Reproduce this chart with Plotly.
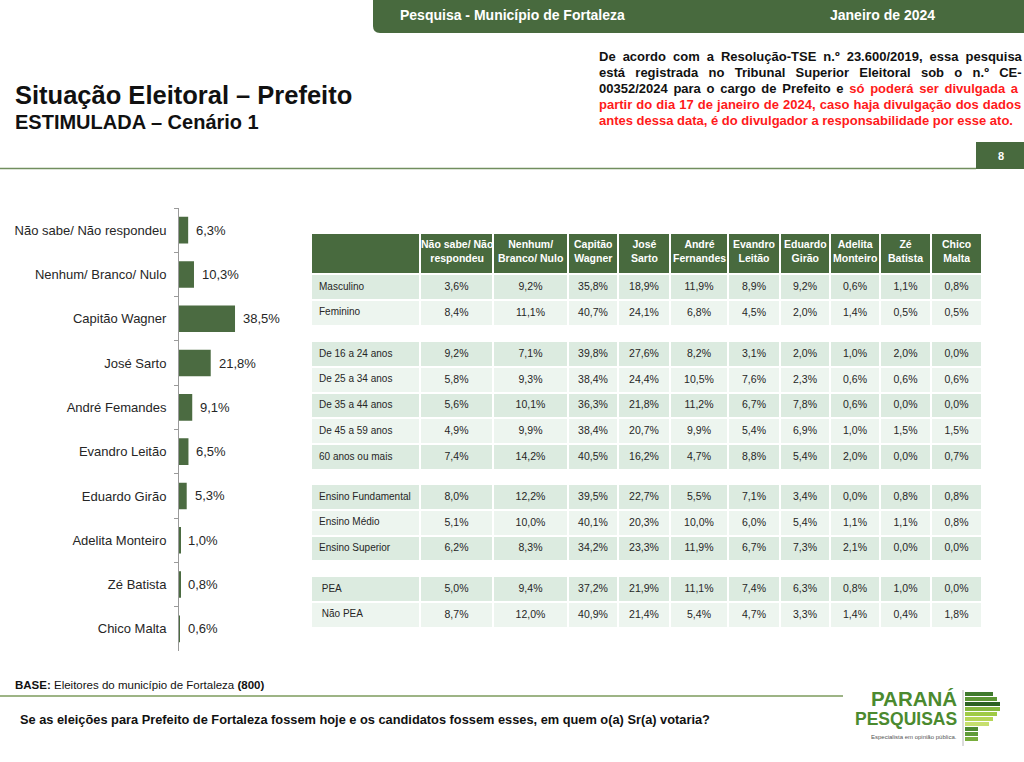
import plotly.graph_objects as go

# ---------------- data ----------------
candidates = ["Não sabe/ Não respondeu", "Nenhum/ Branco/ Nulo", "Capitão Wagner", "José Sarto",
              "André Femandes", "Evandro Leitão", "Eduardo Girão", "Adelita Monteiro",
              "Zé Batista", "Chico Malta"]
vote_share = [6.3, 10.3, 38.5, 21.8, 9.1, 6.5, 5.3, 1.0, 0.8, 0.6]

table_headers = ["Não sabe/ Não<br>respondeu", "Nenhum/<br>Branco/ Nulo", "Capitão<br>Wagner",
                 "José<br>Sarto", "André<br>Fernandes", "Evandro<br>Leitão", "Eduardo<br>Girão",
                 "Adelita<br>Monteiro", "Zé<br>Batista", "Chico<br>Malta"]

gender_labels = ["Masculino", "Feminino"]
gender_values = [
    [3.6, 9.2, 35.8, 18.9, 11.9, 8.9, 9.2, 0.6, 1.1, 0.8],
    [8.4, 11.1, 40.7, 24.1, 6.8, 4.5, 2.0, 1.4, 0.5, 0.5],
]
age_labels = ["De 16 a 24 anos", "De 25 a 34 anos", "De 35 a 44 anos", "De 45 a 59 anos", "60 anos ou mais"]
age_values = [
    [9.2, 7.1, 39.8, 27.6, 8.2, 3.1, 2.0, 1.0, 2.0, 0.0],
    [5.8, 9.3, 38.4, 24.4, 10.5, 7.6, 2.3, 0.6, 0.6, 0.6],
    [5.6, 10.1, 36.3, 21.8, 11.2, 6.7, 7.8, 0.6, 0.0, 0.0],
    [4.9, 9.9, 38.4, 20.7, 9.9, 5.4, 6.9, 1.0, 1.5, 1.5],
    [7.4, 14.2, 40.5, 16.2, 4.7, 8.8, 5.4, 2.0, 0.0, 0.7],
]
edu_labels = ["Ensino\u00a0Fundamental", "Ensino\u00a0Médio", "Ensino\u00a0Superior"]
edu_values = [
    [8.0, 12.2, 39.5, 22.7, 5.5, 7.1, 3.4, 0.0, 0.8, 0.8],
    [5.1, 10.0, 40.1, 20.3, 10.0, 6.0, 5.4, 1.1, 1.1, 0.8],
    [6.2, 8.3, 34.2, 23.3, 11.9, 6.7, 7.3, 2.1, 0.0, 0.0],
]
pea_labels = ["\u00a0PEA", "\u00a0Não PEA"]
pea_values = [
    [5.0, 9.4, 37.2, 21.9, 11.1, 7.4, 6.3, 0.8, 1.0, 0.0],
    [8.7, 12.0, 40.9, 21.4, 5.4, 4.7, 3.3, 1.4, 0.4, 1.8],
]

# ---------------- styling helpers ----------------
W, H = 1024, 762
FONT = "Liberation Sans, Arial, sans-serif"
DARK_GREEN = "#486a3e"
ROW_DARK = "#dcebe0"
ROW_LIGHT = "#edf5ef"
TXT = "#262626"


def X(px):
    return px / W


def Y(py):
    return 1 - py / H


def pct(v):
    return f"{v:.1f}".replace(".", ",") + "%"


fig = go.Figure()

# ---------------- bar chart ----------------
fig.add_trace(go.Bar(
    x=vote_share, y=candidates, orientation="h",
    marker=dict(color="#4b6b41", line=dict(width=0)),
    width=0.6, xaxis="x", yaxis="y", hoverinfo="skip", showlegend=False,
))

annotations = []
for c, v in zip(candidates, vote_share):
    annotations.append(dict(
        x=v, y=c, xref="x", yref="y", text=pct(v), showarrow=False,
        xanchor="left", yanchor="middle", xshift=6,
        font=dict(family=FONT, size=13, color=TXT),
    ))

# ---------------- table ----------------
TABLE_LEFT, TABLE_RIGHT = 311, 982
col_widths = [109, 73, 75, 50, 52, 58, 52, 50, 50, 51, 51]
ROW_H = 25.8
HEAD_H = 41
cell_font = dict(family=FONT, size=[10, 10.5], color=TXT)
cell_line = dict(color="white", width=2)


def columns_of(labels, values):
    return [labels] + [[pct(r[j]) for r in values] for j in range(len(values[0]))]


def table_trace(y_top, y_bot, header, cells):
    return go.Table(
        domain=dict(x=[X(TABLE_LEFT), X(TABLE_RIGHT)], y=[Y(y_bot), Y(y_top)]),
        columnwidth=col_widths, header=header, cells=cells,
    )


# group 1: green header + gender rows
g1 = columns_of(gender_labels, gender_values)
fig.add_trace(table_trace(
    233, 340,
    header=dict(values=[""] * len(col_widths), fill_color=DARK_GREEN, line=cell_line, height=HEAD_H),
    cells=dict(values=g1, fill_color=[[ROW_DARK if i % 2 == 0 else ROW_LIGHT for i in range(len(gender_labels))]],
               line=cell_line, align=["left", "center"], height=ROW_H, font=cell_font),
))

# other groups: the first row rendered as the table's header row
for labels, values, top, bot in [(age_labels, age_values, 341, 483),
                                 (edu_labels, edu_values, 484, 575),
                                 (pea_labels, pea_values, 576, 645)]:
    cols = columns_of(labels, values)
    fig.add_trace(table_trace(
        top, bot,
        header=dict(values=[c[0] for c in cols], fill_color=ROW_DARK, line=cell_line,
                    align=["left", "center"], height=ROW_H, font=cell_font),
        cells=dict(values=[c[1:] for c in cols],
                   fill_color=[[ROW_LIGHT if i % 2 == 0 else ROW_DARK for i in range(len(labels) - 1)]],
                   line=cell_line, align=["left", "center"], height=ROW_H, font=cell_font),
    ))

# header texts (centered line by line)
edge = TABLE_LEFT + col_widths[0]
for h, w in zip(table_headers, col_widths[1:]):
    annotations.append(dict(
        x=X(edge + w / 2), y=Y(250.5), xref="paper", yref="paper", showarrow=False,
        text=f"<b>{h}</b>", align="center", xanchor="center", yanchor="middle",
        font=dict(family=FONT, size=10.5, color="white"),
    ))
    edge += w

# ---------------- decorative shapes ----------------
shapes = []
shapes.append(dict(
    type="path", xref="paper", yref="paper",
    path=(f"M {X(373)} {Y(0)} L {X(1024)} {Y(0)} L {X(1024)} {Y(33)} L {X(380)} {Y(33)} "
          f"Q {X(373)} {Y(33)} {X(373)} {Y(26)} Z"),
    fillcolor=DARK_GREEN, line=dict(width=0), layer="below",
))
shapes.append(dict(type="line", xref="paper", yref="paper", x0=0, x1=X(976), y0=Y(168.5), y1=Y(168.5),
                   line=dict(color="#718e5e", width=1.5)))
shapes.append(dict(type="rect", xref="paper", yref="paper", x0=X(976), x1=X(1024), y0=Y(169), y1=Y(142),
                   fillcolor=DARK_GREEN, line=dict(width=0)))
shapes.append(dict(type="line", xref="paper", yref="paper", x0=0, x1=X(843), y0=Y(696), y1=Y(696),
                   line=dict(color="#7c9b5c", width=1.5)))
shapes.append(dict(type="line", xref="paper", yref="paper", x0=X(963), x1=X(963), y0=Y(690), y1=Y(746),
                   line=dict(color="#b8b8b8", width=1)))
logo_bars = [(692, 993, "#3f7a2c"), (697, 997, "#5c9634"), (702, 1000, "#2c6123"), (707, 1000, "#86b83e"),
             (712, 997, "#9fca45"), (717, 993, "#b5d656"), (722, 989, "#c6df6e"), (727, 978, "#4d8a30"),
             (732, 978, "#5f9a38"), (737, 978, "#78ad3c")]
for yb, xe, col in logo_bars:
    shapes.append(dict(type="rect", xref="paper", yref="paper", x0=X(965), x1=X(xe), y0=Y(yb + 4), y1=Y(yb),
                       fillcolor=col, line=dict(width=0)))


def text(x, y, s, size, color=TXT, bold=False, anchor="left", family=FONT, align="left"):
    annotations.append(dict(
        x=X(x), y=Y(y), xref="paper", yref="paper", text=f"<b>{s}</b>" if bold else s,
        showarrow=False, xanchor=anchor, yanchor="middle", align=align,
        font=dict(family=family, size=size, color=color),
    ))


text(398, 15, "Pesquisa - Município de Fortaleza", 14, "white", True)
text(828, 15, "Janeiro de 2024", 14, "white", True)
text(13, 95, "Situação Eleitoral – Prefeito", 25.5, "#111111", True)
text(13, 122, "ESTIMULADA – Cenário 1", 20, "#111111", True)

RED = "#ff1a1a"
disclaimer = [
    ("De acordo com a Resolução-TSE n.º 23.600/2019, essa pesquisa", 3.4),
    ("está registrada no Tribunal Superior Eleitoral sob o n.º CE-", 6.7),
    (f"00352/2024 para o cargo de Prefeito e <span style='color:{RED}'>só poderá ser divulgada a</span>", 2.1),
    (f"<span style='color:{RED}'>partir do dia 17 de janeiro de 2024, caso haja divulgação dos dados</span>", 0.5),
    (f"<span style='color:{RED}'>antes dessa data, é do divulgador a responsabilidade por esse ato.</span>", 0),
]
for i, (line, ws) in enumerate(disclaimer):
    text(597, 57 + 16 * i, f"<span style='word-spacing:{ws}px'>{line}</span>", 13, "#111111", True)

text(1001, 156, "8", 11, "white", True, "center")

annotations.append(dict(
    x=X(13), y=Y(685), xref="paper", yref="paper", showarrow=False, xanchor="left", yanchor="middle",
    text="<b>BASE:</b> Eleitores do município de Fortaleza <b>(800)</b>",
    font=dict(family=FONT, size=11.5, color="#111111"),
))
text(18, 719, "Se as eleições para Prefeito de Fortaleza fossem hoje e os candidatos fossem esses, em quem o(a) Sr(a) votaria?",
     12.8, "#111111", True)

# logo text: one block, glyphs enlarged inside a tighter line pitch
text(959, 708, "<span style='font-size:20.5px'>PARANÁ</span><br><span style='font-size:17.5px'>PESQUISAS</span>",
     14.5, "#4b8a2f", True, "right", FONT, "right")
text(959, 737, "Especialista em opinião pública.", 6, "#555555", False, "right")

fig.update_layout(
    width=W, height=H, margin=dict(l=0, r=0, t=0, b=0),
    paper_bgcolor="white", plot_bgcolor="white",
    showlegend=False,
    xaxis=dict(domain=[X(179), X(179 + 72.75)], range=[0, 50], visible=False, fixedrange=True),
    yaxis=dict(
        domain=[Y(651), Y(208)], type="category", categoryorder="array", categoryarray=candidates,
        autorange="reversed", showline=True, linecolor="#9a9a9a", linewidth=1,
        ticks="outside", tickson="boundaries", ticklen=4, tickcolor="#9a9a9a",
        tickfont=dict(family=FONT, size=13, color=TXT), ticklabelstandoff=9,
        showgrid=False, zeroline=False, fixedrange=True,
    ),
    shapes=shapes, annotations=annotations,
)

fig.write_html("out.html", config={"displayModeBar": False},
               post_script="document.body.style.margin='0';document.body.style.overflow='hidden';")
